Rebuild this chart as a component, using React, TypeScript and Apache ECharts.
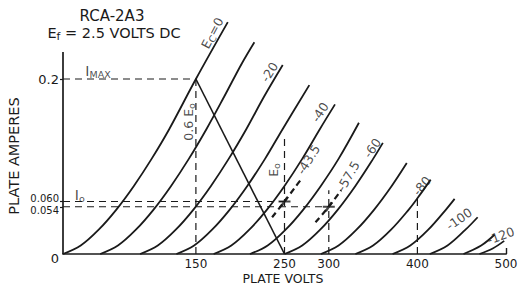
import React, { useEffect, useRef } from "react";
import * as echarts from "echarts";

// Tick values
const xTickValues = [150, 250, 300, 400, 500];
const yTickValues = [0, 0.054, 0.06, 0.2];

// Plate characteristic curves [plate volts, plate amperes]
const curveEc0 = [[0, 0], [20, 0.0097], [40, 0.0275], [60, 0.0505], [80, 0.0778], [100, 0.1087], [120, 0.1429], [150, 0.2], [186, 0.265]];
const curveEc10 = [[42, 0], [62, 0.0097], [82, 0.0275], [102, 0.0505], [122, 0.0778], [142, 0.1087], [162, 0.1429], [182, 0.18], [202, 0.218], [216, 0.242]];
const curveEc20 = [[87, 0], [107, 0.0097], [127, 0.0275], [147, 0.0505], [167, 0.0778], [187, 0.1087], [207, 0.1429], [227, 0.18], [248, 0.216]];
const curveEc30 = [[128, 0], [148, 0.0097], [168, 0.0275], [188, 0.0505], [208, 0.0778], [228, 0.1087], [248, 0.1429], [278, 0.193]];
const curveEc40 = [[170, 0], [190, 0.0097], [210, 0.0275], [230, 0.0505], [250, 0.0778], [270, 0.1087], [290, 0.1429], [307, 0.171]];
const curveEc50 = [[211, 0], [231, 0.0097], [251, 0.0275], [271, 0.0505], [291, 0.0778], [311, 0.1087], [334, 0.15]];
const curveEc60 = [[250, 0], [270, 0.0097], [290, 0.0275], [310, 0.0505], [330, 0.0778], [350, 0.1087], [361, 0.127]];
const curveEc70 = [[291, 0], [311, 0.0097], [331, 0.0275], [351, 0.0505], [371, 0.0778], [388, 0.104]];
const curveEc80 = [[330, 0], [350, 0.0097], [370, 0.0275], [390, 0.0505], [400, 0.0637], [415, 0.085]];
const curveEc90 = [[372, 0], [392, 0.0097], [412, 0.0275], [432, 0.0505], [442, 0.063]];
const curveEc100 = [[414, 0], [434, 0.0097], [454, 0.0275], [468, 0.042]];
const curveEc110 = [[452, 0], [472, 0.0097], [487, 0.022]];
const curveEc120 = [[470, 0], [485, 0.0063], [498, 0.015]];

// Dashed operating-bias curves
const curveEc43_5 = [[236, 0.042], [250, 0.06], [262, 0.0763], [270, 0.087]];
const curveEc57_5 = [[285, 0.0362], [300, 0.054], [314, 0.073]];

// Load line
const loadLine = [[150, 0.2], [250, 0]];

// Operating points
const operatingPoints = [[250, 0.06], [300, 0.054]];

// Dashed construction lines
const dashImax = [[0, 0.2], [150, 0.2]];
const dashI060 = [[0, 0.06], [250, 0.06]];
const dashI054 = [[0, 0.054], [300, 0.054]];
const dashV150 = [[150, 0], [150, 0.2]];
const dashV250 = [[250, 0], [250, 0.136]];
const dashV300 = [[300, 0], [300, 0.073]];
const dashV400 = [[400, 0], [400, 0.064]];

// y axis line extent
const yAxisLine = [[0, 0], [0, 0.231]];

// Annotations: text, anchor (data coords), rotation
const annotations = [
  { text: "{t|E}{s|C}{t|=0}", at: [168.5, 0.2526], rot: 62 },
  { text: "{t|-20}", at: [233, 0.208], rot: 58 },
  { text: "{t|-40}", at: [290, 0.162], rot: 57 },
  { text: "{t|-43.5}", at: [277, 0.108], rot: 58 },
  { text: "{t|-57.5}", at: [322, 0.089], rot: 60 },
  { text: "{t|-60}", at: [349, 0.121], rot: 55 },
  { text: "{t|-80}", at: [405, 0.078], rot: 50 },
  { text: "{t|-100}", at: [447, 0.04], rot: 35 },
  { text: "{t|-120}", at: [494, 0.021], rot: 20 },
  { text: "{t|E}{s|o}", at: [238, 0.096], rot: 90 },
  { text: "{t|0.6 E}{s|o}", at: [142, 0.151], rot: 90 },
  { text: "{big|I}{s|MAX}", at: [39.5, 0.209], rot: 0 },
  { text: "{big|I}{s|o}", at: [19, 0.067], rot: 0 },
];

const INK = "#1a1a1a";
const FONT = "DejaVu Sans";

export default function App() {
  const ref = useRef<HTMLDivElement>(null);

  useEffect(() => {
    if (!ref.current) return;
    const chart = echarts.init(ref.current, null, { renderer: "svg" });

    const solid = (data: number[][], width = 1.8) => ({
      type: "line",
      data,
      smooth: 0.35,
      showSymbol: false,
      symbol: "none",
      silent: true,
      clip: false,
      lineStyle: { color: INK, width },
    });
    const dashed = (data: number[][], width = 1.2, dash = [6, 4]) => ({
      type: "line",
      data,
      showSymbol: false,
      symbol: "none",
      silent: true,
      clip: false,
      lineStyle: { color: INK, width, type: dash },
    });

    const curves = [
      curveEc0, curveEc10, curveEc20, curveEc30, curveEc40, curveEc50, curveEc60,
      curveEc70, curveEc80, curveEc90, curveEc100, curveEc110, curveEc120,
    ];

    const series: any[] = [];
    curves.forEach((c) => series.push(solid(c)));
    series.push({ ...dashed(curveEc43_5, 2.2, [6, 4]), smooth: 0.3 });
    series.push({ ...dashed(curveEc57_5, 2.2, [6, 4]), smooth: 0.3 });
    series.push({ ...solid(loadLine, 1.6), smooth: false });
    [dashImax, dashI060, dashI054, dashV150, dashV250, dashV300, dashV400].forEach((d) =>
      series.push(dashed(d, 1.2, [7, 5]))
    );
    series.push({ ...solid(yAxisLine, 1.7), smooth: false });
    series.push({
      type: "scatter",
      data: operatingPoints,
      symbol: "path://M0,5L12,5M3,10L9,0",
      symbolSize: [12, 9],
      silent: true,
      itemStyle: { color: "none", borderColor: INK, borderWidth: 2.2 },
    });
    const txt = (size: number, extra: any = {}) => ({
      fontFamily: FONT,
      fontSize: size,
      color: INK,
      textBorderWidth: 0,
      textShadowBlur: 0,
      ...extra,
    });
    series.push({
      type: "scatter",
      symbolSize: 0,
      silent: true,
      itemStyle: { color: INK },
      data: annotations.map((a) => ({
        value: a.at,
        label: {
          show: true,
          position: "inside",
          rotate: a.rot,
          formatter: a.text,
          align: "center",
          verticalAlign: "middle",
          color: INK,
          textBorderWidth: 0,
          rich: {
            t: txt(12.5),
            s: txt(9.5, { padding: [6, 0, 0, 0] }),
            big: txt(14),
          },
        },
      })),
    });

    chart.setOption({
      animation: false,
      backgroundColor: "#ffffff",
      grid: { left: 63, right: 12, top: 9, bottom: 32, outerBoundsMode: "none", containLabel: false },
      xAxis: {
        type: "value",
        min: 0,
        max: 500,
        axisLine: { show: true, lineStyle: { color: INK, width: 1.7 } },
        axisTick: { show: true, inside: true, length: 6, customValues: [500], lineStyle: { color: INK, width: 1.4 } },
        axisLabel: {
          customValues: xTickValues,
          margin: 4,
          fontFamily: FONT,
          fontSize: 12,
          lineHeight: 12,
          color: INK,
        },
        splitLine: { show: false },
      },
      yAxis: {
        type: "value",
        min: 0,
        max: 0.28,
        axisLine: { show: false },
        axisTick: { show: true, length: 3, customValues: [0.054, 0.06, 0.2], lineStyle: { color: INK, width: 1.2 } },
        axisLabel: {
          customValues: yTickValues,
          margin: 4,
          formatter: (v: number) => {
            if (Math.abs(v - 0.2) < 1e-6) return "{big|0.2}";
            if (Math.abs(v - 0.06) < 1e-6) return "{up|0.060}";
            if (Math.abs(v - 0.054) < 1e-6) return "{dn|0.054}";
            if (v === 0) return "{zero|0}";
            return "";
          },
          rich: {
            big: { fontFamily: FONT, fontSize: 13, color: INK },
            up: { fontFamily: FONT, fontSize: 10, lineHeight: 9, color: INK, padding: [0, 0, 7, 0] },
            dn: { fontFamily: FONT, fontSize: 10, lineHeight: 9, color: INK, padding: [7, 0, 0, 0] },
            zero: { fontFamily: FONT, fontSize: 13, color: INK, padding: [9, 0, 0, 0] },
          },
        },
        splitLine: { show: false },
      },
      graphic: [
        {
          type: "text",
          x: 112,
          y: 16,
          style: { text: "RCA-2A3", fontFamily: FONT, fontSize: 15, fill: INK, align: "center", verticalAlign: "middle" },
        },
        {
          type: "text",
          x: 114,
          y: 33,
          style: {
            text: "{e|E}{f|f}{e| = 2.5 VOLTS DC}",
            align: "center",
            verticalAlign: "middle",
            rich: {
              e: { fontFamily: FONT, fontSize: 14.5, fill: INK, color: INK },
              f: { fontFamily: FONT, fontSize: 11, fill: INK, color: INK, padding: [7, 0, 0, 0] },
            },
          },
        },
        {
          type: "text",
          x: 14,
          y: 156,
          rotation: Math.PI / 2,
          style: { text: "PLATE AMPERES", fontFamily: FONT, fontSize: 14.5, fill: INK, align: "center", verticalAlign: "middle" },
        },
        {
          type: "text",
          x: 283,
          y: 278.5,
          style: { text: "PLATE VOLTS", fontFamily: FONT, fontSize: 12.5, lineHeight: 12, fill: INK, align: "center", verticalAlign: "middle" },
        },
      ],
      series,
    });

    return () => chart.dispose();
  }, []);

  return (
    <div
      ref={ref}
      style={{ position: "fixed", left: 0, top: 0, width: 518, height: 286, background: "#fff" }}
    />
  );
}
